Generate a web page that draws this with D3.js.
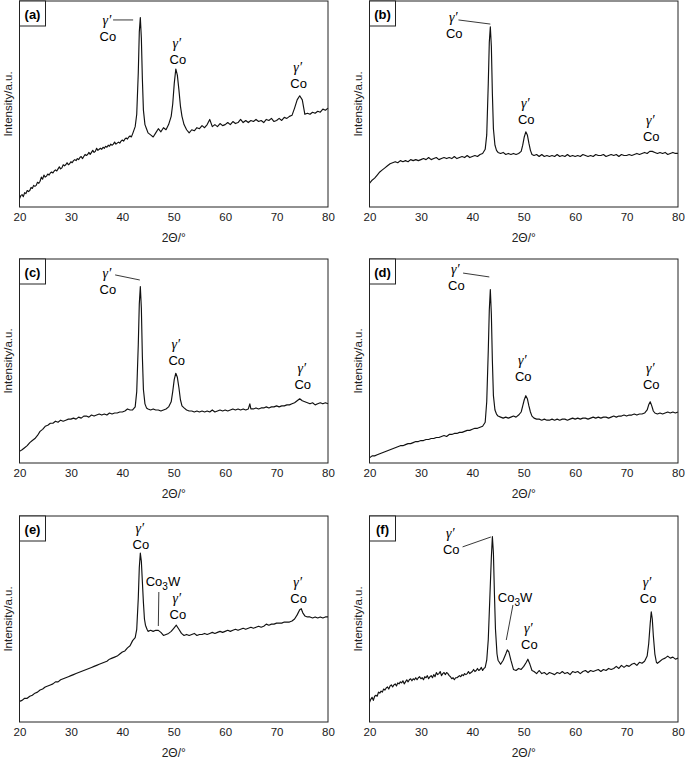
<!DOCTYPE html>
<html>
<head>
<meta charset="utf-8">
<script src="https://cdn.jsdelivr.net/npm/d3@7/dist/d3.min.js"></script>
<style>
  body { margin: 0; background: #fff; }
  svg { display: block; }
  .tick text { font-family: "Liberation Sans", Arial, sans-serif; font-size: 11.5px; fill: #1a1a1a; }
</style>
</head>
<body>
<svg id="chart" width="685" height="762"></svg>
<script>
// x ticks shared by all panels
var tickValues = [20, 30, 40, 50, 60, 70, 80];
var panelLetters = ["(a)", "(b)", "(c)", "(d)", "(e)", "(f)"];

// XRD patterns: [2theta, intensity as % of panel height]
var patternA = [[20,4],[20.25,5.5],[20.5,6],[20.75,5],[21,7],[21.25,6.5],[21.5,8],[21.75,7.5],[22,8],[22.25,9.5],[22.5,9],[22.75,10.5],[23,10],[23.25,10.5],[23.5,12],[23.75,11.5],[24,12.5],[24.25,14.5],[24.5,13.5],[24.75,15.5],[25,14.5],[25.25,15],[25.5,16],[25.75,15.5],[26,16.5],[26.25,17],[26.5,16.5],[26.75,17.5],[27,18],[27.25,17.5],[27.5,18.5],[27.75,19.5],[28,18.5],[28.25,19],[28.5,20.5],[28.75,20],[29,20.5],[29.25,21.5],[29.5,20.5],[29.75,21],[30,22],[30.25,21.5],[30.5,22.5],[30.75,23],[31,22.5],[31.25,23.5],[31.5,23],[31.75,24],[32,24.5],[32.25,23.5],[32.5,24.5],[32.75,25.5],[33,25],[33.25,25.5],[33.5,26.5],[33.75,25.5],[34,26.5],[34.25,27.5],[34.5,26.5],[34.75,27],[35,28.5],[35.25,27.5],[35.5,28],[35.75,28.5],[36,28],[36.25,29],[36.5,28.5],[36.75,29.5],[37,29],[37.25,30],[37.5,29.5],[37.75,30.5],[38,30],[38.25,30.5],[38.5,31.5],[38.75,30.5],[39,31],[39.25,31.5],[39.5,31],[39.75,32],[40,32.5],[40.25,32],[40.5,33],[40.75,33.5],[41,33],[41.25,34],[41.5,34.5],[41.75,34],[42,35.5],[42.5,39],[42.8,45],[43.1,65],[43.3,85],[43.5,92],[43.7,82],[43.9,62],[44.1,47],[44.4,40],[44.7,38],[45,36],[45.5,35],[46,34],[46.5,36],[47,38],[47.5,36.5],[48,38.5],[48.5,37.5],[49,40],[49.5,44],[49.8,50],[50.1,60],[50.4,67],[50.7,64],[51,57],[51.3,49],[51.6,44],[52,40],[52.5,37.5],[53,36],[53.5,37.5],[54,37],[54.5,38.5],[55,38],[55.5,39.5],[56,38.5],[56.5,40],[57,42.5],[57.5,39],[58,40],[58.5,39],[59,40.5],[59.5,39.5],[60,40],[60.5,41],[61,40],[61.5,41.5],[62,40.5],[62.5,41],[63,42.5],[63.5,41],[64,42],[64.5,41],[65,42],[65.5,41.5],[66,42.5],[66.5,41.5],[67,42],[67.5,41],[68,42.5],[68.5,42],[69,43],[69.5,41.5],[70,42],[70.5,43],[71,42],[71.5,43.5],[72,43],[72.5,44],[73,44.5],[73.5,48],[74,52],[74.5,54],[75,52],[75.5,45],[76,45.5],[76.5,45],[77,46],[77.5,45.5],[78,46.5],[78.5,46],[79,47.5],[79.5,47],[80,48]];

var patternB = [[20,11.5],[20.5,13],[21,14],[21.5,15.5],[22,17],[22.5,18],[23,19],[23.5,20],[24,21],[24.5,21.5],[25,22],[25.5,21.5],[26,22.5],[26.5,22],[27,22.5],[27.5,22],[28,23],[28.5,22.5],[29,23],[29.5,22.5],[30,23],[30.5,23.5],[31,23],[31.5,24],[32,23],[32.5,23.5],[33,24],[33.5,23],[34,23.5],[34.5,24],[35,23.5],[35.5,24],[36,23.5],[36.5,24.5],[37,23.5],[37.5,24],[38,24.5],[38.5,24],[39,25],[39.5,24],[40,24.5],[40.5,25],[41,24.5],[41.5,25.5],[42,26],[42.5,28],[42.8,35],[43.1,60],[43.3,80],[43.5,87.5],[43.7,78],[43.9,55],[44.1,38],[44.4,30],[44.7,27.5],[45,26.5],[45.5,26],[46,26.5],[46.5,25.5],[47,26],[47.5,25.5],[48,26],[48.5,25.5],[49,26],[49.5,27],[49.8,30],[50.1,34],[50.4,36.5],[50.7,35],[51,31],[51.3,27.5],[51.6,25.5],[52,25],[52.5,25.5],[53,24.5],[53.5,25.5],[54,24.5],[54.5,25],[55,24.5],[55.5,25],[56,24.5],[56.5,25.5],[57,24.5],[57.5,25],[58,24.5],[58.5,25.5],[59,24.5],[59.5,25],[60,24.5],[60.5,25],[61,24.5],[61.5,25.5],[62,25],[62.5,24.5],[63,25],[63.5,24.5],[64,25.5],[64.5,25],[65,25],[65.5,25.5],[66,24.5],[66.5,25],[67,25.5],[67.5,25],[68,25.5],[68.5,24.5],[69,25.5],[69.5,25],[70,25],[70.5,25.5],[71,25],[71.5,25.5],[72,26],[72.5,25.5],[73,26],[73.5,26.5],[74,26],[74.5,27],[75,27],[75.5,26.5],[76,26],[76.5,26.5],[77,26],[77.5,26.5],[78,25.5],[78.5,26],[79,26.5],[79.5,26],[80,26]];

var patternC = [[20,5.7],[20.5,6.5],[21,7.5],[21.5,8.5],[22,10],[22.5,11],[23,12],[23.5,13.5],[24,15.5],[24.5,16.5],[25,18],[25.5,18.5],[26,19.5],[26.5,19.5],[27,20.5],[27.5,20],[28,21],[28.5,20.5],[29,21],[29.5,21.5],[30,21.5],[30.5,22],[31,21.5],[31.5,22.5],[32,22],[32.5,23],[33,23],[33.5,22.5],[34,23.5],[34.5,23],[35,23.5],[35.5,24],[36,23.5],[36.5,24],[37,23.5],[37.5,24.5],[38,24],[38.5,24.5],[39,24.5],[39.5,25],[40,25],[40.5,25.5],[41,26.5],[41.5,26],[42,26],[42.5,27.5],[42.8,35],[43.1,58],[43.3,78],[43.5,86.5],[43.7,76],[43.9,52],[44.1,36],[44.4,29],[44.7,27],[45,26.5],[45.5,26],[46,26.5],[46.5,26],[47,26],[47.5,25.5],[48,26],[48.5,26.5],[49,27.5],[49.5,30],[49.8,35],[50.1,41],[50.4,44],[50.7,42],[51,37],[51.3,31],[51.6,28],[52,27],[52.5,26],[53,25.5],[53.5,25.5],[54,25],[54.5,25.5],[55,25],[55.5,25.5],[56,25],[56.5,25.5],[57,25],[57.5,26],[58,25],[58.5,25.5],[59,26],[59.5,25.5],[60,26],[60.5,25.5],[61,26],[61.5,26.5],[62,26],[62.5,26.5],[63,26],[63.5,26.5],[64,26],[64.5,26.5],[64.8,29],[65,26.5],[65.5,26.5],[66,27],[66.5,26.5],[67,27],[67.5,27],[68,27.5],[68.5,27],[69,27.5],[69.5,27.5],[70,28],[70.5,27.5],[71,28],[71.5,28],[72,28.5],[72.5,28.5],[73,29],[73.5,29.5],[74,30.5],[74.5,31.5],[75,30.5],[75.5,30],[76,29.5],[76.5,29],[77,29.5],[77.5,28.5],[78,29],[78.5,29.5],[79,29],[79.5,29.5],[80,29]];

var patternD = [[20,2.5],[20.5,3.5],[21,3.5],[21.5,4],[22,4.5],[22.5,5],[23,5.5],[23.5,6],[24,6.5],[24.5,7],[25,7.5],[25.5,8],[26,8.5],[26.5,8.5],[27,9],[27.5,9.5],[28,9.5],[28.5,10],[29,10.5],[29.5,10.5],[30,11],[30.5,11],[31,11.5],[31.5,11.5],[32,12],[32.5,12],[33,12.5],[33.5,12.5],[34,13],[34.5,13.5],[35,13],[35.5,14],[36,14],[36.5,14.5],[37,14.5],[37.5,15],[38,15],[38.5,15.5],[39,16],[39.5,16],[40,16.5],[40.5,17],[41,17],[41.5,17.5],[42,18],[42.5,20],[42.8,30],[43.1,55],[43.3,75],[43.5,85],[43.7,73],[43.9,50],[44.1,33],[44.4,26],[44.7,24],[45,23],[45.5,22.5],[46,22],[46.5,22.5],[47,22],[47.5,22.5],[48,23],[48.5,22.5],[49,23.5],[49.5,25],[49.8,28],[50.1,31],[50.4,33],[50.7,31.5],[51,28],[51.3,25],[51.6,23],[52,22],[52.5,21.5],[53,21.5],[53.5,21],[54,21.5],[54.5,21],[55,21],[55.5,21.5],[56,21],[56.5,21.5],[57,21],[57.5,21.5],[58,21.5],[58.5,21],[59,21.5],[59.5,22],[60,21.5],[60.5,22],[61,21.5],[61.5,22],[62,22],[62.5,21.5],[63,22],[63.5,22.5],[64,22],[64.5,22.5],[65,22],[65.5,22.5],[66,22.5],[66.5,22],[67,22.5],[67.5,23],[68,22.5],[68.5,23],[69,23],[69.5,23.5],[70,23],[70.5,23.5],[71,23.5],[71.5,24],[72,23.5],[72.5,24],[73,24],[73.5,24.5],[74,26],[74.3,28.5],[74.6,30],[74.9,28],[75.2,25.5],[75.5,24.5],[76,24],[76.5,24.5],[77,24],[77.5,24.5],[78,25],[78.5,24.5],[79,25],[79.5,24.5],[80,25]];

var patternE = [[20,10],[20.5,10.5],[21,11.5],[21.5,11.5],[22,12.5],[22.5,13],[23,14],[23.5,14.5],[24,15.5],[24.5,16],[25,17],[25.5,17.5],[26,18],[26.5,18.5],[27,19.5],[27.5,19.5],[28,20.5],[28.5,21],[29,21.5],[29.5,22],[30,22.5],[30.5,23],[31,23.5],[31.5,24],[32,24.5],[32.5,25],[33,25.5],[33.5,26],[34,26.5],[34.5,27],[35,27.5],[35.5,28],[36,28.5],[36.5,29],[37,29.5],[37.5,30.5],[38,31],[38.5,31.5],[39,32],[39.5,33],[40,34],[40.5,34.5],[41,36],[41.5,37],[42,39.5],[42.5,41],[42.8,45],[43.1,60],[43.3,75],[43.5,82],[43.7,78],[43.9,68],[44.1,58],[44.3,50],[44.5,47],[44.8,45],[45,44],[45.5,44.5],[46,44],[46.5,44.5],[47,44.5],[47.5,43.5],[48,42],[48.5,42.5],[49,43],[49.5,44],[50,45.5],[50.5,47],[51,45],[51.5,43],[52,42],[52.5,42.5],[53,42],[53.5,42.5],[54,43],[54.5,42],[55,42.5],[55.5,42.5],[56,43],[56.5,42.5],[57,43],[57.5,43.5],[58,43],[58.5,43.5],[59,44],[59.5,43.5],[60,44],[60.5,44.5],[61,44],[61.5,44.5],[62,45],[62.5,44.5],[63,45],[63.5,45.5],[64,45],[64.5,45.5],[65,46],[65.5,45.5],[66,46],[66.5,46.5],[67,46],[67.5,46.5],[68,47.5],[68.5,47],[69,47.5],[69.5,47.5],[70,48],[70.5,48],[71,48],[71.5,48.5],[72,48.5],[72.5,48.5],[73,49],[73.5,50],[74,52],[74.5,54.5],[74.8,55],[75.1,53],[75.5,51.5],[76,51],[76.5,51],[77,50.5],[77.5,51],[78,50.5],[78.5,51],[79,50.5],[79.5,51],[80,51]];

var patternF = [[20,9.5],[20.25,11],[20.5,12],[20.75,10.5],[21,12.5],[21.25,13],[21.5,12.5],[21.75,14.5],[22,14],[22.25,15],[22.5,14.5],[22.75,16],[23,15.5],[23.25,16.5],[23.5,17],[23.75,16],[24,17.5],[24.25,18],[24.5,17],[24.75,18],[25,18.5],[25.25,17.5],[25.5,19],[25.75,18.5],[26,19.5],[26.25,19],[26.5,20],[26.75,18.5],[27,19.5],[27.25,20.5],[27.5,19.5],[27.75,20.5],[28,21],[28.25,20],[28.5,21],[28.75,20.5],[29,21.5],[29.25,20.5],[29.5,21.5],[29.75,22],[30,21],[30.25,21.5],[30.5,20.5],[30.75,22],[31,21.5],[31.25,22.5],[31.5,21],[31.75,22],[32,22.5],[32.25,21.5],[32.5,23],[32.75,22],[33,24],[33.25,23],[33.5,23.5],[33.75,24.5],[34,22.5],[34.25,23.5],[34.5,24],[34.75,23],[35,24],[35.25,23.5],[35.5,22.5],[35.75,22],[36,21],[36.25,21.5],[36.5,20.5],[36.75,21.5],[37,21.5],[37.25,22],[37.5,22.5],[37.75,22],[38,23],[38.25,22.5],[38.5,23.5],[38.75,23],[39,23.5],[39.25,24.5],[39.5,23.5],[39.75,24],[40,24.5],[40.25,25.5],[40.5,24.5],[40.75,25],[41,26],[41.25,25],[41.5,25.5],[41.75,26.5],[42,25],[42.25,26],[42.5,26.5],[42.8,30],[43.1,40],[43.4,60],[43.7,80],[43.9,90],[44.1,82],[44.3,62],[44.5,45],[44.8,33],[45,30],[45.5,28],[46,30],[46.5,33],[46.8,35],[47.1,34],[47.5,30],[48,25.5],[48.5,25],[49,26],[49.5,25.5],[50,27],[50.5,29],[50.8,30.5],[51.2,28],[51.6,25],[52,24.5],[52.5,23.5],[53,25],[53.5,23.5],[54,24],[54.5,23],[55,24],[55.5,23.5],[56,23],[56.5,24],[57,23.5],[57.5,24.5],[58,23.5],[58.5,24],[59,23],[59.5,24.5],[60,24],[60.5,24.5],[61,23.5],[61.5,24.5],[62,25],[62.5,24],[63,25],[63.5,24.5],[64,25],[64.5,25.5],[65,24.5],[65.5,25.5],[66,25],[66.5,26],[67,25.5],[67.5,26],[68,27],[68.5,26],[69,27.5],[69.5,26.5],[70,27.5],[70.5,27],[71,28],[71.5,28.5],[72,27.5],[72.5,29],[73,28.5],[73.5,29.5],[74,32],[74.3,38],[74.6,48],[74.8,53.5],[75,50],[75.2,42],[75.5,33],[75.8,29],[76,28.5],[76.5,29.5],[77,30.5],[77.5,31],[78,32],[78.5,31],[79,31.5],[79.5,30.5],[80,31]];

var patterns = [patternA, patternB, patternC, patternD, patternE, patternF];

// peak labels: [2theta, intensity] of the gamma' mark; "Co" sits under it
var gammaLabelsA = [[37.0,90.8],[50.6,79.6],[74.1,68]];
var gammaLabelsB = [[36.3,92.2],[50.3,50.5],[74.6,42.2]];
var gammaLabelsC = [[37.0,93.1],[50.4,58.3],[74.9,46.6]];
var gammaLabelsD = [[36.7,95.1],[49.7,50.5],[74.6,46.6]];
var gammaLabelsE = [[43.4,94.2],[50.6,60.2],[74.1,68]];
var gammaLabelsF = [[35.7,91.7],[50.9,45.6],[74.0,68]];
var gammaLabels = [gammaLabelsA, gammaLabelsB, gammaLabelsC, gammaLabelsD, gammaLabelsE, gammaLabelsF];

// Co3W labels (only e and f): [2theta, intensity]
var co3wLabels = [null, null, null, null, [47.9,68.4], [48.3,60.7]];

// leader lines: [x1, y1, x2, y2] in data units
var leadersA = [[38.2,90.8,42.1,90.8]];
var leadersB = [[37.3,90.8,43.5,88.8]];
var leadersC = [[38.6,92.2,43.4,89.7]];
var leadersD = [[38.2,93.1,43.3,91.2]];
var leadersE = [[47.1,63.1,47.0,46.6]];
var leadersF = [[38.1,85.0,43.6,89.8],[47.9,56.8,46.6,39.8]];
var leaders = [leadersA, leadersB, leadersC, leadersD, leadersE, leadersF];

var svg = d3.select("#chart");
var colLeft = [19.5, 369.5];
var rowTop = [1, 259, 516];
var rowH = [206, 204, 206];
var panelW = 308.5;

var fontSans = '"Liberation Sans", Arial, sans-serif';
var fontSerif = '"Liberation Serif", "Times New Roman", serif';

patterns.forEach(function(data, i) {
    var col = i % 2, row = Math.floor(i / 2);
    var left = colLeft[col], top = rowTop[row], h = rowH[row];

    var x = d3.scaleLinear().domain([20, 80]).range([0, panelW]);
    var y = d3.scaleLinear().domain([0, 100]).range([h, 0]);

    var g = svg.append("g").attr("transform", "translate(" + left + "," + top + ")");

    // x axis labels only, no tick marks
    var ax = g.append("g")
        .attr("transform", "translate(0," + h + ")")
        .call(d3.axisBottom(x).tickValues(tickValues).tickSize(0).tickPadding(6));
    ax.select(".domain").remove();

    // pattern line
    var line = d3.line()
        .x(function(d) { return x(d[0]); })
        .y(function(d) { return y(d[1]); });
    g.append("path")
        .datum(data)
        .attr("d", line)
        .attr("fill", "none")
        .attr("stroke", "#111")
        .attr("stroke-width", 1.15)
        .attr("stroke-linejoin", "round");

    // frame
    g.append("rect")
        .attr("width", panelW).attr("height", h)
        .attr("fill", "none").attr("stroke", "#222").attr("stroke-width", 1);

    // letter box
    g.append("rect")
        .attr("width", 26).attr("height", 25)
        .attr("fill", "#fff").attr("stroke", "#222").attr("stroke-width", 1);
    g.append("text")
        .attr("x", 13).attr("y", 17.5)
        .attr("text-anchor", "middle")
        .style("font-family", fontSans).style("font-weight", "bold").style("font-size", "13px")
        .text(panelLetters[i]);

    // axis titles
    g.append("text")
        .attr("x", panelW / 2).attr("y", h + 35)
        .attr("text-anchor", "middle")
        .style("font-family", fontSans).style("font-size", "12px").attr("fill", "#222")
        .text("2Θ/°");
    g.append("text")
        .attr("transform", "translate(-8," + (h / 2) + ") rotate(-90)")
        .attr("text-anchor", "middle")
        .style("font-family", fontSans).style("font-size", "11.5px").attr("fill", "#222")
        .text("Intensity/a.u.");

    // gamma' / Co labels
    gammaLabels[i].forEach(function(p) {
        g.append("text")
            .attr("x", x(p[0])).attr("y", y(p[1]) + 5)
            .attr("text-anchor", "middle")
            .style("font-family", fontSerif).style("font-style", "italic").style("font-size", "14px")
            .text("γ′");
        g.append("text")
            .attr("x", x(p[0]) + 1).attr("y", y(p[1]) + 21)
            .attr("text-anchor", "middle")
            .style("font-family", fontSans).style("font-size", "13px")
            .text("Co");
    });

    // Co3W labels
    if (co3wLabels[i]) {
        var c = co3wLabels[i];
        var t = g.append("text")
            .attr("x", x(c[0])).attr("y", y(c[1]) + 5)
            .attr("text-anchor", "middle")
            .style("font-family", fontSans).style("font-size", "13px");
        t.append("tspan").text("Co");
        t.append("tspan").attr("dy", 4).style("font-size", "10px").text("3");
        t.append("tspan").attr("dy", -4).text("W");
    }

    // leader lines
    leaders[i].forEach(function(l) {
        g.append("line")
            .attr("x1", x(l[0])).attr("y1", y(l[1]))
            .attr("x2", x(l[2])).attr("y2", y(l[3]))
            .attr("stroke", "#222").attr("stroke-width", 0.9);
    });
});
</script>
</body>
</html>
